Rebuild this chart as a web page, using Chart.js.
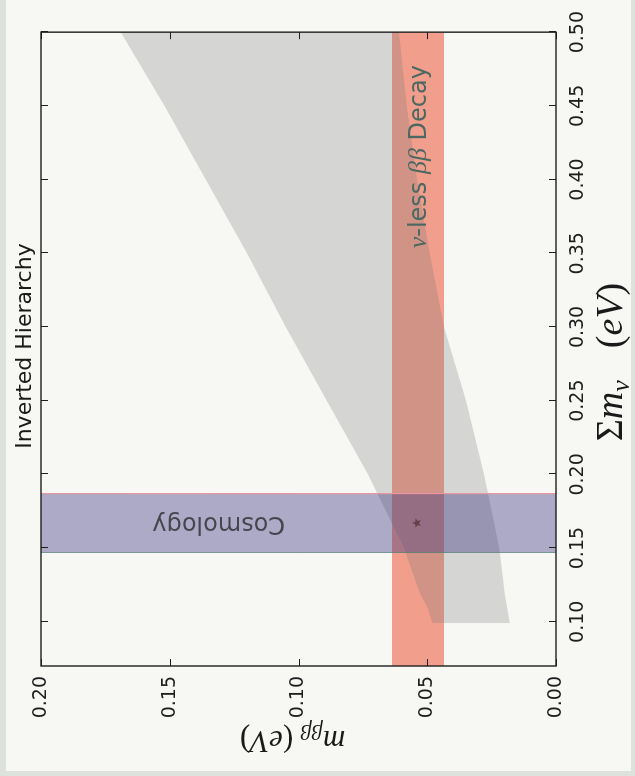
<!DOCTYPE html>
<html>
<head>
<meta charset="utf-8">
<script src="https://cdn.jsdelivr.net/npm/chart.js@4/dist/chart.umd.min.js"></script>
<style>
  html, body { margin: 0; padding: 0; background: #dde2dc; }
  #page { position: relative; width: 635px; height: 776px; overflow: hidden; background: #dde2dc; }
  #sheet { position: absolute; left: 6px; top: 0; width: 625px; height: 771px; background: #f7f7f4; }
  /* the figure is laid out landscape and turned a quarter-turn onto the portrait page */
  #plot { position: absolute; left: 0; top: 0; transform-origin: 0 0; transform: translateY(776px) rotate(-90deg); }
</style>
</head>
<body>
<div id="page"><div id="sheet"></div><canvas id="plot" width="776" height="635"></canvas></div>
<script>
// Axis ticks
const sumTicks = [0.10, 0.15, 0.20, 0.25, 0.30, 0.35, 0.40, 0.45, 0.50];
const sumTickLabels = ['0.10', '0.15', '0.20', '0.25', '0.30', '0.35', '0.40', '0.45', '0.50'];
const mbbTicks = [0.00, 0.05, 0.10, 0.15, 0.20];
const mbbTickLabels = ['0.00', '0.05', '0.10', '0.15', '0.20'];

// Inverted-hierarchy band: upper and lower m_bb edge against the mass sum
const ihSum   = [0.099, 0.110, 0.120, 0.135, 0.150, 0.175, 0.200, 0.250, 0.300, 0.350, 0.400, 0.450, 0.500];
const ihUpper = [0.048, 0.050, 0.053, 0.056, 0.059, 0.066, 0.073, 0.089, 0.105, 0.120, 0.136, 0.152, 0.169];
const ihLower = [0.018, 0.019, 0.020, 0.021, 0.022, 0.025, 0.028, 0.035, 0.0435, 0.049, 0.054, 0.058, 0.061];

// Cosmology window on the mass sum, and the 0vbb window on m_bb
const cosmologySum = [0.147, 0.187];
const decayMbb = [0.0435, 0.0637];

// Best-fit point
const bestSum = [0.167];
const bestMbb = [0.054];

const SUM_MIN = 0.07, SUM_MAX = 0.50, MBB_MIN = 0.0, MBB_MAX = 0.20;

const pts = (xs, ys) => xs.map((x, i) => ({ x, y: ys[i] }));

function starImage(r, color) {
  const c = document.createElement('canvas');
  c.width = c.height = 2 * r + 2;
  const g = c.getContext('2d');
  g.fillStyle = color;
  g.beginPath();
  for (let k = 0; k < 10; k++) {
    const a = -Math.PI / 2 + k * Math.PI / 5;
    const rr = k % 2 ? r * 0.42 : r;
    g.lineTo(r + 1 + rr * Math.cos(a), r + 1 + rr * Math.sin(a));
  }
  g.closePath();
  g.fill();
  return c;
}

const SANS = 'DejaVu Sans';
const SERIF = 'Liberation Serif';

function drawParts(ctx, parts, x, y, align) {
  let total = 0;
  parts.forEach(p => { ctx.font = p.font; p.w = ctx.measureText(p.t).width + (p.gap || 0); total += p.w; });
  let cx = align === 'center' ? x - total / 2 : x;
  parts.forEach(p => {
    ctx.font = p.font;
    ctx.fillText(p.t, cx, y + (p.dy || 0));
    cx += p.w;
  });
}

// inward ticks on all four sides plus the box
const frameTicks = {
  id: 'frameTicks',
  afterDatasetsDraw(chart) {
    const { ctx, chartArea: a, scales: { x, y } } = chart;
    const L = 7;
    ctx.save();
    ctx.strokeStyle = '#1e1e1e';
    ctx.lineWidth = 1;
    ctx.beginPath();
    sumTicks.forEach(v => {
      const px = Math.round(x.getPixelForValue(v)) + 0.5;
      ctx.moveTo(px, a.bottom); ctx.lineTo(px, a.bottom - L);
      ctx.moveTo(px, a.top); ctx.lineTo(px, a.top + L);
    });
    mbbTicks.forEach(v => {
      const py = Math.round(y.getPixelForValue(v)) + 0.5;
      ctx.moveTo(a.left, py); ctx.lineTo(a.left + L, py);
      ctx.moveTo(a.right, py); ctx.lineTo(a.right - L, py);
    });
    ctx.stroke();
    ctx.lineWidth = 1.4;
    ctx.strokeRect(a.left, a.top, a.right - a.left, a.bottom - a.top);
    ctx.restore();
  }
};

// band labels, axis titles and the figure title
const texts = {
  id: 'texts',
  afterDraw(chart) {
    const { ctx, chartArea: a, scales: { x, y } } = chart;
    ctx.save();
    ctx.textBaseline = 'alphabetic';
    ctx.textAlign = 'left';

    // title
    ctx.fillStyle = '#1a1a1a';
    drawParts(ctx, [{ t: 'Inverted Hierarchy', font: `22px ${SANS}` }], (a.left + a.right) / 2 + 3, 31, 'center');

    // cosmology label, running along the band
    ctx.save();
    ctx.translate(x.getPixelForValue(0.1655), y.getPixelForValue(0.131));
    ctx.rotate(-Math.PI / 2);
    ctx.fillStyle = '#45454f';
    drawParts(ctx, [{ t: 'Cosmology', font: `24px ${SANS}` }], 0, 8, 'center');
    ctx.restore();

    // 0vbb label
    ctx.fillStyle = '#4c6862';
    drawParts(ctx, [
      { t: 'ν', font: `italic 26px ${SERIF}` },
      { t: '-less ', font: `24px ${SANS}` },
      { t: 'ββ', font: `italic 26px ${SERIF}` },
      { t: ' Decay', font: `24px ${SANS}` }
    ], x.getPixelForValue(0.4155), y.getPixelForValue(0.054) + 9, 'center');

    // x axis title
    ctx.fillStyle = '#1a1a1a';
    drawParts(ctx, [
      { t: 'Σ', font: `38px ${SERIF}` },
      { t: 'm', font: `italic 38px ${SERIF}` },
      { t: 'ν', font: `italic 26px ${SERIF}`, dy: 7, gap: 32 },
      { t: '(', font: `38px ${SERIF}` },
      { t: 'eV', font: `italic 38px ${SERIF}` },
      { t: ')', font: `38px ${SERIF}` }
    ], 414, 622, 'center');

    // y axis title
    ctx.save();
    ctx.translate(45, (a.top + a.bottom) / 2 - 6);
    ctx.rotate(-Math.PI / 2);
    drawParts(ctx, [
      { t: 'm', font: `italic 31px ${SERIF}` },
      { t: 'ββ', font: `italic 22px ${SERIF}`, dy: 6 },
      { t: ' (', font: `31px ${SERIF}` },
      { t: 'eV', font: `italic 31px ${SERIF}` },
      { t: ')', font: `31px ${SERIF}` }
    ], 0, 0, 'center');
    ctx.restore();

    ctx.restore();
  }
};

const noLine = { borderWidth: 0, pointRadius: 0, tension: 0 };

new Chart(document.getElementById('plot'), {
  type: 'line',
  data: {
    datasets: [
      {
        label: 'best fit',
        data: pts(bestSum, bestMbb),
        showLine: false,
        pointStyle: starImage(5, 'rgba(95,55,65,0.85)'),
        pointRadius: 5,
        order: 0
      },
      {
        label: 'Cosmology',
        data: [
          { x: cosmologySum[0], y: MBB_MIN }, { x: cosmologySum[0], y: MBB_MAX },
          { x: cosmologySum[1], y: MBB_MAX }, { x: cosmologySum[1], y: MBB_MIN }
        ],
        fill: 'origin',
        backgroundColor: 'rgba(60,55,130,0.40)',
        borderWidth: 1,
        segment: {
          borderColor: c => ['rgba(70,120,115,0.7)', 'rgba(0,0,0,0)', 'rgba(235,150,160,0.9)'][c.p0DataIndex]
        },
        pointRadius: 0,
        order: 1
      },
      {
        label: 'IH upper',
        data: pts(ihSum, ihUpper),
        fill: '+1',
        backgroundColor: 'rgba(110,110,110,0.25)',
        ...noLine,
        order: 2
      },
      {
        label: 'IH lower',
        data: pts(ihSum, ihLower),
        fill: false,
        ...noLine,
        order: 3
      },
      {
        label: 'decay upper',
        data: [{ x: SUM_MIN, y: decayMbb[1] }, { x: SUM_MAX, y: decayMbb[1] }],
        fill: '+1',
        backgroundColor: 'rgba(236,95,65,0.58)',
        ...noLine,
        order: 4
      },
      {
        label: 'decay lower',
        data: [{ x: SUM_MIN, y: decayMbb[0] }, { x: SUM_MAX, y: decayMbb[0] }],
        fill: false,
        ...noLine,
        order: 5
      }
    ]
  },
  options: {
    responsive: false,
    animation: false,
    events: [],
    layout: { padding: { top: 41, right: 31, bottom: 0, left: 0 } },
    plugins: { legend: { display: false }, tooltip: { enabled: false }, title: { display: false } },
    scales: {
      x: {
        type: 'linear',
        min: SUM_MIN, max: SUM_MAX,
        afterBuildTicks: s => { s.ticks = sumTicks.map(v => ({ value: v })); },
        afterFit: s => { s.height = 79; },
        grid: { display: false, drawTicks: false },
        border: { display: false },
        ticks: {
          padding: 11, autoSkip: false, maxRotation: 0,
          color: '#1e1e1e', font: { family: SANS, size: 19 },
          callback: (v, i) => sumTickLabels[i]
        }
      },
      y: {
        type: 'linear',
        min: MBB_MIN, max: MBB_MAX,
        afterBuildTicks: s => { s.ticks = mbbTicks.map(v => ({ value: v })); },
        afterFit: s => { s.width = 110; },
        grid: { display: false, drawTicks: false },
        border: { display: false },
        ticks: {
          padding: 10, autoSkip: false,
          color: '#1e1e1e', font: { family: SANS, size: 19 },
          callback: (v, i) => mbbTickLabels[i]
        }
      }
    }
  },
  plugins: [frameTicks, texts]
});
</script>
</body>
</html>
